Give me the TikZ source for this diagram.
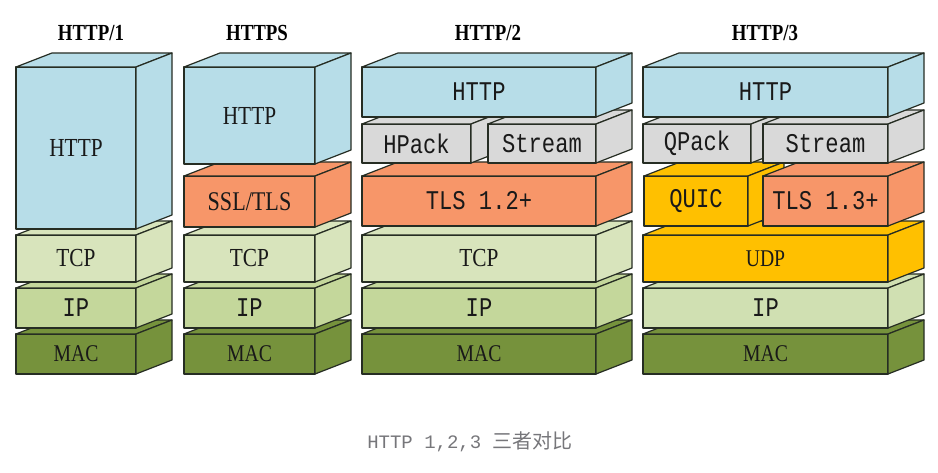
\documentclass[tikz,border=0pt]{standalone}
\usepackage{fontspec}
\setmainfont{Liberation Serif}
\setmonofont{Liberation Mono}
\newfontfamily\cjk{Noto Sans CJK SC}
\newfontfamily\labserif[FakeStretch=0.82]{Liberation Serif}
\newfontfamily\labmono[FakeStretch=0.82]{Liberation Mono}
\usetikzlibrary{positioning}

\definecolor{httpblue}{RGB}{183,221,232}
\definecolor{tlsorange}{RGB}{247,150,105}
\definecolor{packgray}{RGB}{217,217,217}
\definecolor{tcpgreen}{RGB}{216,228,188}
\definecolor{ipgreen}{RGB}{196,215,155}
\definecolor{ipthree}{RGB}{208,224,178}
\definecolor{macgreen}{RGB}{118,146,60}
\definecolor{udpyellow}{RGB}{255,192,0}
\definecolor{boxline}{RGB}{38,45,35}
\definecolor{textdark}{RGB}{25,25,25}
\definecolor{capgray}{RGB}{118,118,122}

% name, x1, y1, x2, y2, fill, font style, label
\newcommand{\layerbox}[8]{%
  \node[front,fill=#6,#7,minimum width={(#4-#2)*1pt},minimum height={(#5-#3)*1pt}]
    (#1) at ({(#2+#4)/2},{(#3+#5)/2}) {#8};
  \filldraw[face,fill=#6] (#1.north west) -- ++(36,-14) -- ++({#4-#2},0)
    -- (#1.north east) -- cycle;
  \filldraw[face,fill=#6] (#1.north east) -- ++(36,-14) -- ++(0,{#5-#3})
    -- (#1.south east) -- cycle;
}

\begin{document}
\begin{tikzpicture}[x=1pt,y=-1pt,
    face/.style={draw=boxline,line width=1.2pt,line join=round},
    front/.style={face,inner sep=0pt,outer sep=0pt,text=textdark},
    serifl/.style={font=\labserif\fontsize{26}{30}\selectfont},
    serifm/.style={font=\labserif\fontsize{24}{28}\selectfont},
    serifb/.style={font=\labserif\fontsize{27}{31}\selectfont},
    monol/.style={font=\labmono\fontsize{27}{31}\selectfont},
    head/.style={font=\labserif\bfseries\fontsize{23}{27}\selectfont},
    caption/.style={font=\ttfamily\fontsize{19}{22}\selectfont,text=capgray}]
  \useasboundingbox (0,0) rectangle (938,473);

  % HTTP/1
  \node[head] (hone) at (91,33) {HTTP/1};
  \layerbox{macone}{16}{334}{136}{374}{macgreen}{serifm}{MAC}
  \layerbox{ipone}{16}{288}{136}{328}{ipgreen}{monol}{IP}
  \layerbox{tcpone}{16}{235}{136}{282}{tcpgreen}{serifl}{TCP}
  \layerbox{httpone}{16}{67}{136}{229}{httpblue}{serifl}{HTTP}

  % HTTPS
  \node[head] (hs) at (257,33) {HTTPS};
  \layerbox{macs}{184}{334}{315}{374}{macgreen}{serifm}{MAC}
  \layerbox{ips}{184}{288}{315}{328}{ipgreen}{monol}{IP}
  \layerbox{tcps}{184}{235}{315}{282}{tcpgreen}{serifl}{TCP}
  \layerbox{ssls}{184}{176}{315}{227}{tlsorange}{serifb}{SSL/TLS}
  \layerbox{https}{184}{67}{315}{164}{httpblue}{serifl}{HTTP}

  % HTTP/2
  \node[head] (htwo) at (488,33) {HTTP/2};
  \layerbox{mactwo}{362}{334}{596}{374}{macgreen}{serifm}{MAC}
  \layerbox{iptwo}{362}{288}{596}{328}{ipgreen}{monol}{IP}
  \layerbox{tcptwo}{362}{235}{596}{282}{tcpgreen}{serifl}{TCP}
  \layerbox{tlstwo}{362}{176}{596}{226}{tlsorange}{monol}{TLS 1.2+}
  \layerbox{hpack}{362}{124}{471}{163}{packgray}{monol}{HPack}
  \layerbox{streamtwo}{488}{124}{596}{163}{packgray}{monol}{Stream}
  \layerbox{httptwo}{362}{67}{596}{117}{httpblue}{monol}{HTTP}

  % HTTP/3
  \node[head] (hthree) at (765,33) {HTTP/3};
  \layerbox{macthree}{643}{334}{888}{374}{macgreen}{serifm}{MAC}
  \layerbox{ipthree}{643}{288}{888}{328}{ipthree}{monol}{IP}
  \layerbox{udp}{643}{235}{888}{282}{udpyellow}{serifm}{UDP}
  \layerbox{quic}{644}{176}{748}{226}{udpyellow}{monol}{QUIC}
  \layerbox{tlsthree}{763}{176}{888}{226}{tlsorange}{monol}{TLS 1.3+}
  \layerbox{qpack}{643}{124}{751}{163}{packgray}{monol}{QPack}
  \layerbox{streamthree}{763}{124}{888}{163}{packgray}{monol}{Stream}
  \layerbox{httpthree}{643}{67}{888}{117}{httpblue}{monol}{HTTP}

  \node[caption] (cap) at (470,442) {HTTP 1,2,3 {\cjk\fontsize{20}{22}\selectfont 三者对比}};
\end{tikzpicture}
\end{document}
